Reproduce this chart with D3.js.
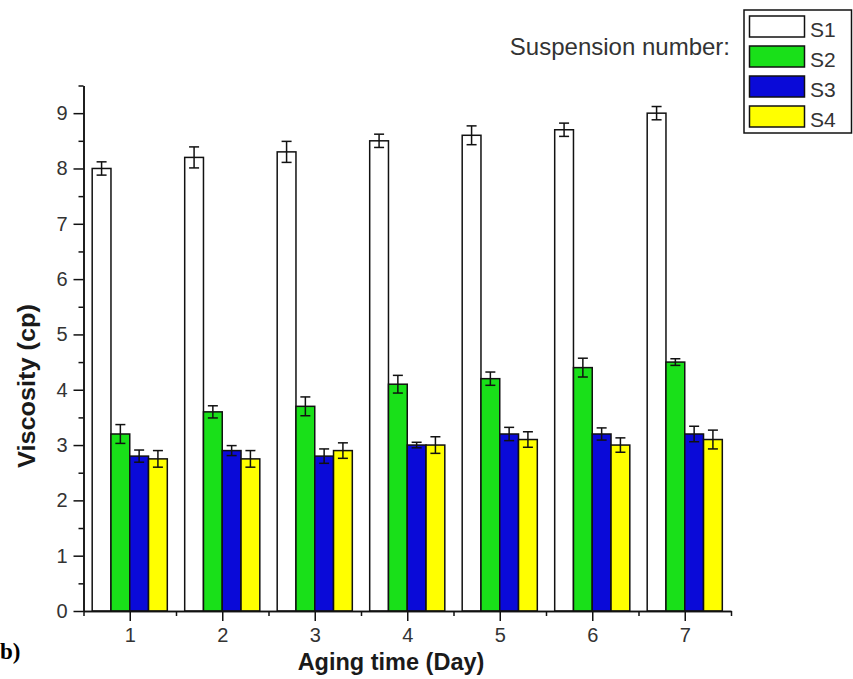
<!DOCTYPE html>
<html>
<head>
<meta charset="utf-8">
<script src="https://cdn.jsdelivr.net/npm/d3@7/dist/d3.min.js"></script>
<style>
  html, body { margin: 0; padding: 0; background: #fff; }
  svg { display: block; }
</style>
</head>
<body>
<svg id="chart" width="853" height="679"></svg>
<script>
// ---- data ----
const days = [1, 2, 3, 4, 5, 6, 7];
const seriesNames = ["S1", "S2", "S3", "S4"];
const s1 = [8.0, 8.2, 8.3, 8.5, 8.6, 8.7, 9.0];
const s1err = [0.12, 0.19, 0.19, 0.12, 0.17, 0.12, 0.12];
const s2 = [3.2, 3.6, 3.7, 4.1, 4.2, 4.4, 4.5];
const s2err = [0.17, 0.11, 0.17, 0.16, 0.12, 0.17, 0.06];
const s3 = [2.8, 2.9, 2.8, 3.0, 3.2, 3.2, 3.2];
const s3err = [0.11, 0.09, 0.13, 0.05, 0.12, 0.11, 0.14];
const s4 = [2.75, 2.75, 2.9, 3.0, 3.1, 3.0, 3.1];
const s4err = [0.15, 0.15, 0.14, 0.15, 0.14, 0.13, 0.17];
const yTicks = [0, 1, 2, 3, 4, 5, 6, 7, 8, 9];
const yMinorTicks = [0.5, 1.5, 2.5, 3.5, 4.5, 5.5, 6.5, 7.5, 8.5, 9.5];
const xMinorTicks = [0.5, 1.5, 2.5, 3.5, 4.5, 5.5, 6.5, 7.5];
const colors = ["#ffffff", "#19e019", "#0a0ad8", "#ffff00"];

const values = [s1, s2, s3, s4];
const errors = [s1err, s2err, s3err, s4err];

(function () {
// ---- layout ----
const svg = d3.select("#chart");
const pLeft = 83.5, pRight = 731, pTop = 85.5, pBottom = 611;
const x = d3.scaleLinear().domain([0.5, 7.5]).range([pLeft, pRight]);
const y = d3.scaleLinear().domain([0, 9.5]).range([pBottom, pTop]);
const barW = x(0.203) - x(0);
const font = "'Liberation Sans', Arial, sans-serif";

// bars
const g = svg.append("g");
seriesNames.forEach((name, si) => {
  const offset = (si - 2) * barW;
  g.selectAll(".bar-" + name)
    .data(days.map((d, i) => ({ d, v: values[si][i], e: errors[si][i] })))
    .enter().append("rect")
    .attr("x", p => x(p.d) + offset)
    .attr("y", p => y(p.v))
    .attr("width", barW)
    .attr("height", p => y(0) - y(p.v))
    .attr("fill", colors[si])
    .attr("stroke", "#111")
    .attr("stroke-width", 1.5);
});
// error bars
seriesNames.forEach((name, si) => {
  const offset = (si - 2) * barW + barW / 2;
  const eg = g.append("g").attr("stroke", "#111").attr("stroke-width", 1.5);
  days.forEach((d, i) => {
    const cx = x(d) + offset;
    const v = values[si][i], e = errors[si][i];
    eg.append("line").attr("x1", cx).attr("x2", cx).attr("y1", y(v - e)).attr("y2", y(v + e));
    eg.append("line").attr("x1", cx - 5).attr("x2", cx + 5).attr("y1", y(v + e)).attr("y2", y(v + e));
    eg.append("line").attr("x1", cx - 5).attr("x2", cx + 5).attr("y1", y(v - e)).attr("y2", y(v - e));
  });
});

// axes
function styleAxis(sel) {
  sel.selectAll(".domain").attr("stroke", "#111").attr("stroke-width", 1.5);
  sel.selectAll(".tick line").attr("stroke", "#111").attr("stroke-width", 1.5);
  sel.selectAll(".tick text").attr("fill", "#333").style("font-family", font).style("font-size", "20px");
}
const yAxis = svg.append("g").attr("transform", `translate(${pLeft},0)`)
  .call(d3.axisLeft(y).tickValues(yTicks).tickFormat(d3.format("d")).tickSize(10).tickPadding(6).tickSizeOuter(0));
styleAxis(yAxis);
const yMinor = svg.append("g").attr("transform", `translate(${pLeft},0)`)
  .call(d3.axisLeft(y).tickValues(yMinorTicks).tickFormat("").tickSize(5).tickSizeOuter(0));
styleAxis(yMinor);

const xAxis = svg.append("g").attr("transform", `translate(0,${pBottom})`)
  .call(d3.axisBottom(x).tickValues(days).tickFormat(d3.format("d")).tickSize(10).tickPadding(7).tickSizeOuter(0));
styleAxis(xAxis);
const xMinor = svg.append("g").attr("transform", `translate(0,${pBottom})`)
  .call(d3.axisBottom(x).tickValues(xMinorTicks).tickFormat("").tickSize(5).tickSizeOuter(0));
styleAxis(xMinor);

// axis titles
svg.append("text")
  .attr("x", 391).attr("y", 670)
  .attr("text-anchor", "middle")
  .style("font-family", font).style("font-weight", "bold").style("font-size", "23.5px")
  .attr("fill", "#1a1a1a")
  .text("Aging time (Day)");
svg.append("text")
  .attr("transform", `translate(35,386) rotate(-90) scale(1.1,1)`)
  .attr("text-anchor", "middle")
  .style("font-family", font).style("font-weight", "bold").style("font-size", "23px")
  .attr("fill", "#1a1a1a")
  .text("Viscosity (cp)");

// panel label (left part cut by the figure edge in the original)
svg.append("text")
  .attr("x", 0).attr("y", 659)
  .style("font-family", "'Liberation Serif', 'Times New Roman', serif")
  .style("font-weight", "bold").style("font-size", "23px")
  .attr("fill", "#000")
  .text("b)");

// legend
svg.append("text")
  .attr("x", 730).attr("y", 55)
  .attr("text-anchor", "end")
  .style("font-family", font).style("font-size", "24px")
  .attr("fill", "#333")
  .text("Suspension number:");
const lg = svg.append("g");
lg.append("rect").attr("x", 744).attr("y", 10).attr("width", 107.5).attr("height", 123)
  .attr("fill", "#fff").attr("stroke", "#111").attr("stroke-width", 1.5);
seriesNames.forEach((name, i) => {
  const ry = 16 + i * 30;
  lg.append("rect").attr("x", 749.5).attr("y", ry).attr("width", 55).attr("height", 21)
    .attr("fill", colors[i]).attr("stroke", "#111").attr("stroke-width", 1.5);
  lg.append("text").attr("x", 810).attr("y", ry + 21)
    .style("font-family", font).style("font-size", "21px")
    .attr("fill", "#333").text(name);
});
})();
</script>
</body>
</html>
